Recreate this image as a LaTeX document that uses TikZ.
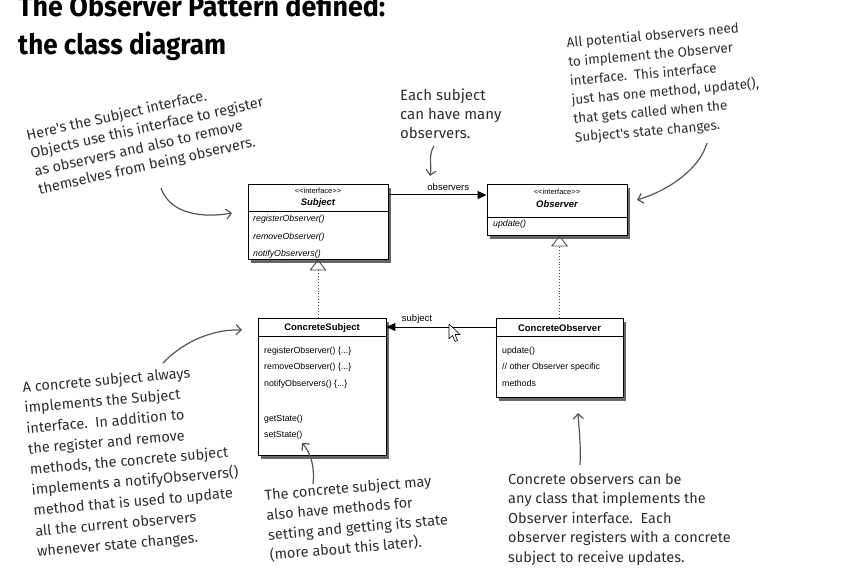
\documentclass[tikz,border=0pt]{standalone}
\usepackage{fontspec}
\usepackage{graphicx}
\setmainfont{Liberation Sans}
\newfontfamily\handfont{Fira Sans}
\newfontfamily\titlefont{Fira Sans}
\usetikzlibrary{arrows.meta,shadows}
\definecolor{ink}{HTML}{2E2E2E}
\definecolor{arrowgray}{HTML}{555555}
\tikzset{
  umlbox/.style={draw=black, line width=0.9pt, fill=white,
    drop shadow={shadow xshift=3pt, shadow yshift=-4pt, opacity=0.6, fill=black}, inner sep=0pt},
  divider/.style={draw=black, line width=0.8pt},
  stereo/.style={font=\fontsize{7.5}{8}\selectfont, inner sep=0pt},
  cname/.style={font=\fontsize{9.5}{10}\selectfont\bfseries, inner sep=0pt},
  iname/.style={font=\fontsize{9.5}{10}\selectfont\bfseries\itshape, inner sep=0pt},
  meth/.style={font=\fontsize{8.8}{9}\selectfont, anchor=base west, inner sep=0pt},
  imeth/.style={font=\fontsize{8.8}{9}\selectfont\itshape, anchor=base west, inner sep=0pt},
  rolelabel/.style={font=\fontsize{9.5}{10}\selectfont, inner sep=0pt},
  note/.style={font=\handfont\fontsize{14.5}{19.5}\selectfont, text=ink, align=left, anchor=north west, inner sep=0pt},
  title/.style={font=\titlefont\bfseries\fontsize{28}{30}\selectfont, anchor=base west, inner sep=0pt},
  pointer/.style={draw=arrowgray, line width=1.2pt, -{Straight Barb[length=5pt,width=10pt]}},
  realize/.style={draw=black!70, dotted, line width=0.9pt, -{Triangle[open,length=11pt,width=17pt,line width=0.9pt]}},
  assoc/.style={draw=black, line width=1pt, -{Triangle[length=9pt,width=8pt]}},
}
\begin{document}
\begin{tikzpicture}[x=1pt, y=-1pt]
\fill[white] (0,0) rectangle (864,588);
\useasboundingbox (0,0) rectangle (864,588);

% title
\node[title] (t1) at (18,17) {\scalebox{0.96}[1]{The Observer Pattern defined:}};
\node[title] (t2) at (18,55) {\scalebox{0.93}[1]{the class diagram}};

% Subject
\node[umlbox, minimum width=140pt, minimum height=75pt] (subj) at (318,221.5) {};
\draw[divider] (subj.west |- 0,211) -- (subj.east |- 0,211);
\node[stereo] (subjst) at (318,191) {<\kern0pt<interface>\kern0pt>};
\node[iname] (subjn) at (318,203.5) {Subject};
\node[imeth] (sm1) at (253,222) {registerObserver()};
\node[imeth] (sm2) at (253,239.5) {removeObserver()};
\node[imeth] (sm3) at (253,256) {notifyObservers()};

% Observer
\node[umlbox, minimum width=140pt, minimum height=51pt] (obs) at (557,209.5) {};
\draw[divider] (obs.west |- 0,217) -- (obs.east |- 0,217);
\node[stereo] (obsst) at (557,191.5) {<\kern0pt<interface>\kern0pt>};
\node[iname] (obsn) at (557,204.5) {Observer};
\node[imeth] (om1) at (493,226) {update()};

% ConcreteSubject
\node[umlbox, minimum width=128pt, minimum height=137pt] (csubj) at (322,386.5) {};
\draw[divider] (csubj.west |- 0,336) -- (csubj.east |- 0,336);
\node[cname] (csubjn) at (322,328.5) {ConcreteSubject};
\node[meth] (cm1) at (264,353) {registerObserver() \{...\}};
\node[meth] (cm2) at (264,369.5) {removeObserver() \{...\}};
\node[meth] (cm3) at (264,386) {notifyObservers() \{...\}};
\node[meth] (cm4) at (264,421) {getState()};
\node[meth] (cm5) at (264,437.5) {setState()};

% ConcreteObserver
\node[umlbox, minimum width=127pt, minimum height=79pt] (cobs) at (559.5,357.5) {};
\draw[divider] (cobs.west |- 0,336) -- (cobs.east |- 0,336);
\node[cname] (cobsn) at (559.5,328.5) {ConcreteObserver};
\node[meth] (com1) at (502,353) {update()};
\node[meth] (com2) at (502,369.5) {// other Observer specific};
\node[meth] (com3) at (502,386) {methods};

% relations
\draw[assoc] (subj.east |- 0,195) -- (obs.west |- 0,195)
  node[rolelabel, pos=0.61, above=3.5pt] (lobs) {observers};
\draw[assoc] (cobs.west |- 0,327) -- (csubj.east |- 0,327)
  node[rolelabel, pos=0.72, above=3.5pt] (lsubj) {subject};
\draw[realize] (csubj.north -| subj.south) -- (subj.south);
\draw[realize] (cobs.north) -- (cobs.north |- obs.south);

% mouse cursor
\draw[fill=white, line width=0.6pt, line join=round] (449,324) -- (449,339) -- (452.5,335.5) -- (455,341.5) -- (457.5,340.5) -- (455,334.5) -- (460,334.5) -- cycle;

% notes
\node[note, rotate=12.5, font=\handfont\fontsize{14.5}{18.5}\selectfont] (n1) at (25,129) {Here's the Subject interface.\\Objects use this interface to register\\as observers and also to remove\\themselves from being observers.};
\node[note, font=\handfont\fontsize{15}{19}\selectfont] (n2) at (400,89) {Each subject\\can have many\\observers.};
\node[note, rotate=5, font=\handfont\fontsize{13.5}{19}\selectfont] (n3) at (566,37) {All potential observers need\\to implement the Observer\\interface.\ \ This interface\\just has one method, update(),\\that gets called when the\\Subject's state changes.};
\node[note, rotate=5, font=\handfont\fontsize{14.5}{20.6}\selectfont] (n4) at (22,381) {A concrete subject always\\implements the Subject\\interface.\ \ In addition to\\the register and remove\\methods, the concrete subject\\implements a notifyObservers()\\method that is used to update\\all the current observers\\whenever state changes.};
\node[note, rotate=5, font=\handfont\fontsize{14.5}{20}\selectfont] (n5) at (264,489) {The concrete subject may\\also have methods for\\setting and getting its state\\(more about this later).};
\node[note] (n6) at (508,473) {Concrete observers can be\\any class that implements the\\Observer interface.\ \ Each\\observer registers with a concrete\\subject to receive updates.};

% note pointers
\coordinate (p1s) at (161,188); \coordinate (p1e) at (232,213);
\coordinate (p2s) at (434,146); \coordinate (p2e) at (430,176);
\coordinate (p3s) at (707,143); \coordinate (p3e) at (637,200);
\coordinate (p4s) at (163,363); \coordinate (p4e) at (242,330);
\coordinate (p5s) at (313,484); \coordinate (p5e) at (302,443);
\coordinate (p6s) at (580,465); \coordinate (p6e) at (578,413);
\draw[pointer] (p1s) .. controls (170,215) and (205,218) .. (p1e);
\draw[pointer] (p2s) .. controls (428,155) and (432,165) .. (p2e);
\draw[pointer] (p3s) .. controls (700,168) and (670,190) .. (p3e);
\draw[pointer] (p4s) .. controls (185,340) and (215,329) .. (p4e);
\draw[pointer] (p5s) .. controls (315,465) and (310,452) .. (p5e);
\draw[pointer] (p6s) .. controls (581,445) and (579,430) .. (p6e);
\end{tikzpicture}
\end{document}
